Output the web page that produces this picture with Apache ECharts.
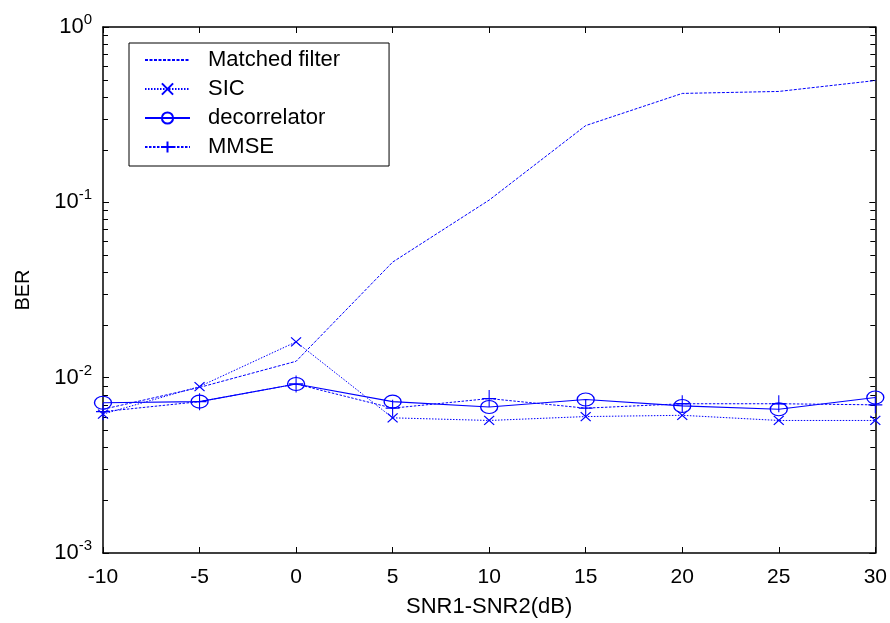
<!DOCTYPE html>
<html><head><meta charset="utf-8">
<script src="https://cdn.jsdelivr.net/npm/echarts@6/dist/echarts.min.js"></script>
<style>html,body{margin:0;padding:0;background:#fff}#c{width:890px;height:623px}</style>
</head><body><div id="c"></div>
<script>
const snrDiff = [-10, -5, 0, 5, 10, 15, 20, 25, 30];
const matchedFilter = [0.0066, 0.0088, 0.0124, 0.0456, 0.103, 0.274, 0.418, 0.429, 0.495];
const sic = [0.0062, 0.0089, 0.016, 0.0059, 0.0057, 0.0060, 0.0061, 0.0057, 0.0057];
const decorrelator = [0.0072, 0.0073, 0.0092, 0.0073, 0.0068, 0.0075, 0.0069, 0.0066, 0.0077];
const mmse = [0.0064, 0.0073, 0.0092, 0.0067, 0.0076, 0.0067, 0.0071, 0.0071, 0.0070];
const seriesNames = ['Matched filter', 'SIC', 'decorrelator', 'MMSE'];
const decades = [0.001, 0.01, 0.1];
const minorMultipliers = [2, 3, 4, 5, 6, 7, 8, 9];
const xTitle = 'SNR1-SNR2(dB)';
const yTitle = 'BER';

const blue = '#0000ff';
const font = 'Liberation Sans, Arial, sans-serif';
const pairs = a => snrDiff.map((x, i) => [x, a[i]]);
const chart = echarts.init(document.getElementById('c'));
const axisCommon = {
  axisLine: {show: true, onZero: false, lineStyle: {color: '#000', width: 1.5}},
  axisTick: {show: true, inside: true, length: 6, lineStyle: {color: '#000', width: 1}},
  splitLine: {show: false}
};
const ylab = v => {
  const e = Math.round(Math.log10(v));
  return '{b|10}{s|' + e + '}';
};
chart.setOption({
  animation: false,
  backgroundColor: '#fff',
  grid: {left: 103, right: 12, top: 27, bottom: 64, containLabel: false},
  legend: {
    orient: 'vertical', left: 129, top: 43,
    padding: [6, 49, 8, 15],
    itemGap: 7, itemWidth: 45, itemHeight: 14,
    borderColor: '#000', borderWidth: 1, backgroundColor: '#fff',
    textStyle: {fontFamily: font, fontSize: 22, color: '#000', padding: [0, 0, 0, 13]},
    data: seriesNames
  },
  xAxis: [
    Object.assign({type: 'value', min: -10, max: 30, interval: 5, position: 'bottom',
      name: xTitle, nameLocation: 'middle', nameGap: 43,
      nameTextStyle: {fontFamily: font, fontSize: 22, color: '#000'},
      axisLabel: {fontFamily: font, fontSize: 21, color: '#000', margin: 14}}, axisCommon),
    Object.assign({type: 'value', min: -10, max: 30, interval: 5, position: 'top',
      axisLabel: {show: false}}, axisCommon)
  ],
  yAxis: [
    Object.assign({}, axisCommon, {type: 'log', logBase: 10, min: 0.001, max: 1, position: 'left',
      name: yTitle, nameLocation: 'middle', nameGap: 70,
      nameTextStyle: {fontFamily: font, fontSize: 20, color: '#000'},
      axisLabel: {formatter: ylab, margin: 11, rich: {
        b: {fontFamily: font, fontSize: 22, color: '#000'},
        s: {fontFamily: font, fontSize: 15, color: '#000', padding: [0, 0, 14, 0]}
      }}}),
    Object.assign({}, axisCommon, {type: 'log', logBase: 10, min: 0.001, max: 1, position: 'right',
      axisLabel: {show: false}})
  ],
  series: [
    {name: seriesNames[0], type: 'line', data: pairs(matchedFilter),
      symbol: 'circle', showSymbol: false,
      lineStyle: {color: blue, width: 1, type: [3, 1.5]},
      itemStyle: {color: 'none', borderColor: 'none', borderWidth: 0}},
    {name: seriesNames[1], type: 'line', data: pairs(sic),
      symbol: 'path://M0,0L10,10M10,0L0,10', symbolSize: [10, 9],
      lineStyle: {color: blue, width: 1, type: [1.5, 1.5]},
      itemStyle: {color: 'none', borderColor: blue, borderWidth: 1.2}},
    {name: seriesNames[2], type: 'line', data: pairs(decorrelator),
      symbol: 'circle', symbolSize: [17, 13],
      lineStyle: {color: blue, width: 1.1, type: 'solid'},
      itemStyle: {color: 'none', borderColor: blue, borderWidth: 1.2}},
    {name: seriesNames[3], type: 'line', data: pairs(mmse),
      symbol: 'path://M5,0L5,10M0,5L10,5', symbolSize: [14, 17],
      lineStyle: {color: blue, width: 1, type: [2.5, 1.5]},
      itemStyle: {color: 'none', borderColor: blue, borderWidth: 1.2}}
  ]
});
// minor log ticks placed through the axis scale
const minorTicks = [];
const xL = chart.convertToPixel({xAxisIndex: 0}, -10);
const xR = chart.convertToPixel({xAxisIndex: 0}, 30);
decades.forEach(d => minorMultipliers.forEach(m => {
  const y = Math.round(chart.convertToPixel({yAxisIndex: 0}, d * m)) + 0.5;
  minorTicks.push({type: 'line', silent: true, shape: {x1: xL, y1: y, x2: xL + 5, y2: y}, style: {stroke: '#000', lineWidth: 1}});
  minorTicks.push({type: 'line', silent: true, shape: {x1: xR - 5, y1: y, x2: xR, y2: y}, style: {stroke: '#000', lineWidth: 1}});
}));
chart.setOption({graphic: minorTicks});
</script></body></html>
